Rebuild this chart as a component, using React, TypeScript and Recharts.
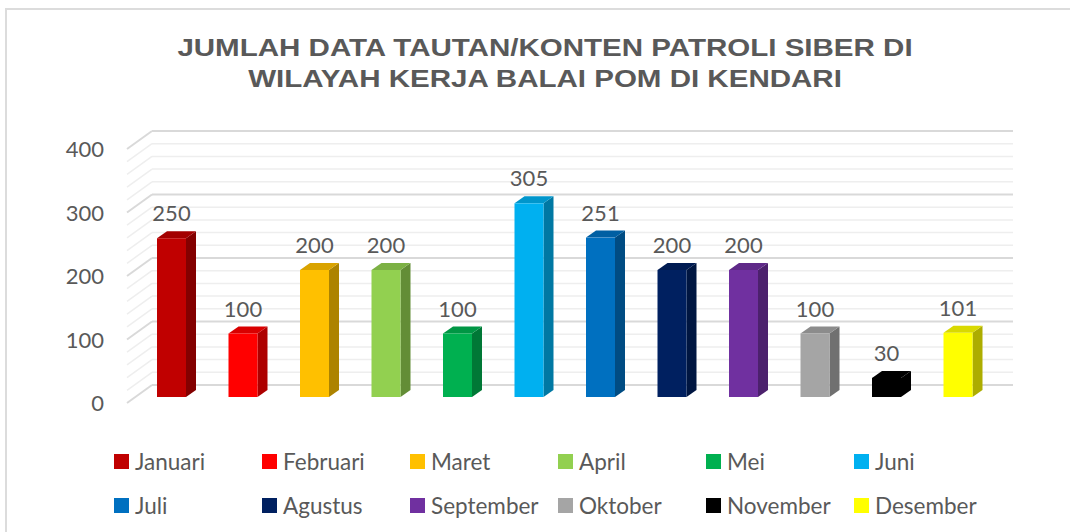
import React from 'react';
import { BarChart, Bar, XAxis, YAxis, Cell, LabelList, ReferenceLine, Legend } from 'recharts';

const months = ['Januari', 'Februari', 'Maret', 'April', 'Mei', 'Juni', 'Juli', 'Agustus', 'September', 'Oktober', 'November', 'Desember'];
const values = [250, 100, 200, 200, 100, 305, 251, 200, 200, 100, 30, 101];
const colors = ['#C00000', '#FF0000', '#FFC000', '#92D050', '#00B050', '#00B0F0', '#0070C0', '#002060', '#7030A0', '#A5A5A5', '#000000', '#FFFF00'];
const yTicks = [0, 100, 200, 300, 400];
const gridValues = [0, 20, 40, 60, 80, 100, 120, 140, 160, 180, 200, 220, 240, 260, 280, 300, 320, 340, 360, 380, 400];
const titleLines = ['JUMLAH DATA TAUTAN/KONTEN PATROLI SIBER DI', 'WILAYAH KERJA BALAI POM DI KENDARI'];

const data = months.map((m, i) => ({ month: m, value: values[i], color: colors[i] }));

const DEPTH_X = 10;
const DEPTH_Y = 7;
const LABEL_FONT = 'Lato, "Liberation Sans", sans-serif';

function shade(hex: string, f: number): string {
  const n = parseInt(hex.slice(1), 16);
  const r = Math.round(((n >> 16) & 255) * f);
  const g = Math.round(((n >> 8) & 255) * f);
  const b = Math.round((n & 255) * f);
  return `rgb(${r},${g},${b})`;
}

const Bar3D = (props: any) => {
  const { x, y, width, height, payload } = props;
  if (width == null || height == null) return null;
  const fw = width - DEPTH_X;
  const base = y + height;
  const c = payload.color;
  return (
    <g>
      <polygon
        points={`${x + fw},${y} ${x + fw + DEPTH_X},${y - DEPTH_Y} ${x + fw + DEPTH_X},${base - DEPTH_Y} ${x + fw},${base}`}
        fill={shade(c, 0.68)}
      />
      <polygon
        points={`${x},${y} ${x + DEPTH_X},${y - DEPTH_Y} ${x + fw + DEPTH_X},${y - DEPTH_Y} ${x + fw},${y}`}
        fill={shade(c, 0.85)}
      />
      <rect x={x} y={y} width={fw} height={height} fill={c} />
    </g>
  );
};

const ValueLabel = (props: any) => {
  const { x, y, width, value } = props;
  const fw = width - DEPTH_X;
  return (
    <text x={x + fw / 2} y={y - 17} textAnchor="middle" fontSize={22} fill="#595959" fontFamily={LABEL_FONT}>
      {value}
    </text>
  );
};

const YTick = (props: any) => {
  const { x, y, payload } = props;
  return (
    <text x={x - 29} y={y + 14} textAnchor="end" fontSize={22} fill="#595959" fontFamily={LABEL_FONT}>
      {payload.value}
    </text>
  );
};

const makeGridShape = (v: number) => (props: any) => {
  const { x1, y1, x2 } = props;
  const major = v % 100 === 0;
  const stroke = major ? '#d9d9d9' : '#eeeeee';
  const sw = major ? 2 : 1.5;
  const backLeft = x1 + 11;
  const backY = y1 - 12;
  return (
    <g>
      <line x1={backLeft} y1={backY} x2={x2 + 14} y2={backY} stroke={stroke} strokeWidth={sw} />
      <line x1={x1 - 14} y1={y1 + 6} x2={backLeft} y2={backY} stroke={stroke} strokeWidth={sw} />
    </g>
  );
};

const LegendContent = () => (
  <div style={{ position: 'relative', width: 1070, height: 85, fontFamily: LABEL_FONT }}>
    {months.map((m, i) => {
      const col = i % 6;
      const row = Math.floor(i / 6);
      return (
        <div
          key={m}
          style={{
            position: 'absolute',
            left: 114 + col * 148,
            top: row * 44 + 8,
            display: 'flex',
            alignItems: 'center',
            height: 26,
            whiteSpace: 'nowrap',
          }}
        >
          <span style={{ display: 'inline-block', width: 15, height: 15, background: colors[i], marginRight: 6 }} />
          <span style={{ fontSize: 22.5, color: '#595959' }}>{m}</span>
        </div>
      );
    })}
  </div>
);

export default function App() {
  return (
    <div style={{ position: 'absolute', left: 0, top: 0, width: 1070, height: 532, background: '#ffffff', overflow: 'hidden' }}>
      <div
        style={{
          position: 'absolute',
          left: 5,
          top: 8,
          width: 1100,
          height: 560,
          border: '2px solid #dcdcdc',
          boxSizing: 'border-box',
        }}
      />
      <div
        style={{
          position: 'absolute',
          left: 0,
          top: 32,
          width: 1090,
          textAlign: 'center',
          fontFamily: '"Liberation Sans", Arial, sans-serif',
          fontWeight: 'bold',
          fontSize: 24,
          lineHeight: '31px',
          color: '#595959',
          transform: 'scaleX(1.23)',
          transformOrigin: '545px 0px',
        }}
      >
        {titleLines.map((t) => (
          <div key={t}>{t}</div>
        ))}
      </div>
      <div style={{ position: 'absolute', left: 0, top: 0 }}>
        <BarChart width={1070} height={532} data={data} margin={{ top: 143, right: 71, bottom: 7, left: 41 }}>
          {gridValues.map((v) => (
            <ReferenceLine key={v} y={v} shape={makeGridShape(v)} zIndex={-100} ifOverflow="visible" />
          ))}
          <XAxis dataKey="month" tick={false} axisLine={false} tickLine={false} height={43} />
          <YAxis
            domain={[0, 400]}
            ticks={yTicks}
            width={100}
            axisLine={false}
            tickLine={false}
            tick={<YTick />}
            interval={0}
          />
          <Legend verticalAlign="bottom" height={85} content={<LegendContent />} wrapperStyle={{ left: 0, width: 1070 }} />
          <Bar dataKey="value" barSize={39} shape={<Bar3D />} isAnimationActive={false}>
            {data.map((d) => (
              <Cell key={d.month} fill={d.color} />
            ))}
            <LabelList dataKey="value" content={<ValueLabel />} />
          </Bar>
        </BarChart>
      </div>
    </div>
  );
}
